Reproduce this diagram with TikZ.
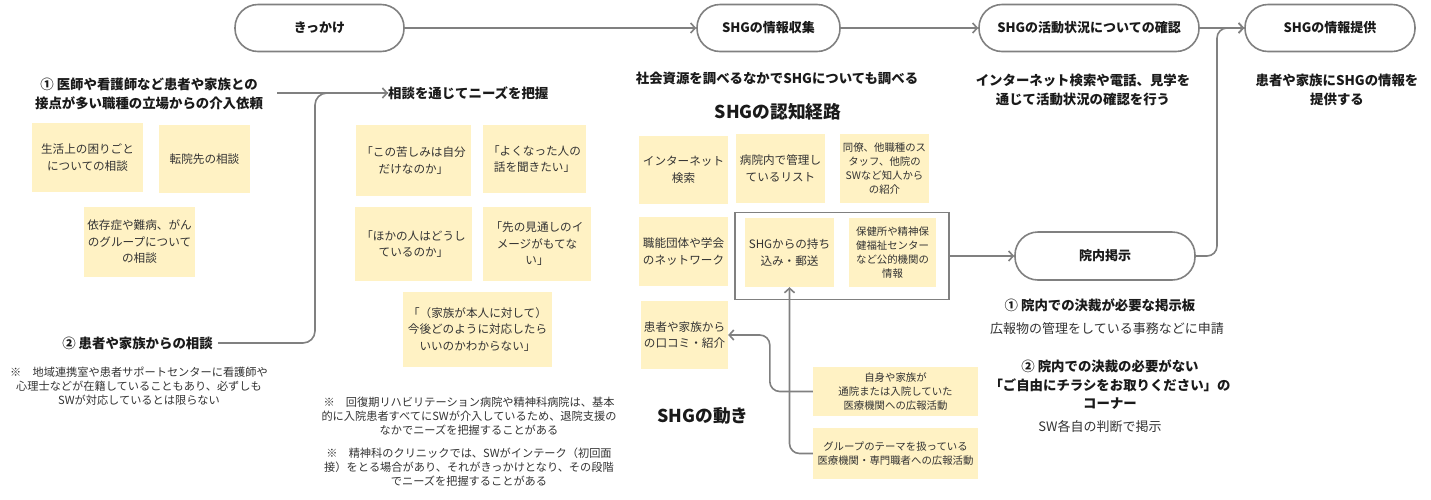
\documentclass[tikz,border=0pt]{standalone}
\usepackage{fontspec}
\setmainfont{Noto Sans CJK JP}
\usetikzlibrary{arrows.meta,calc}
\definecolor{lg}{HTML}{808080}
\definecolor{ylw}{HTML}{FFF2C4}
\definecolor{txt}{HTML}{1A1A1A}
\definecolor{btxt}{HTML}{333333}
\tikzset{
  pill/.style={draw=lg,line width=1.6pt,rounded corners=23pt,minimum height=47pt,
    font=\bfseries\fontsize{13}{15}\selectfont,text=txt,align=center},
  arr/.style={draw=lg,line width=1.6pt,-{Straight Barb[length=4.5pt,width=10pt]}},
  conn/.style={draw=lg,line width=1.6pt},
  ybox/.style={fill=ylw,inner sep=0pt,align=center,text=btxt,
    font=\fontsize{11.6}{16.5}\selectfont},
  ysmall/.style={fill=ylw,inner sep=0pt,align=center,text=btxt,
    font=\fontsize{10.4}{14}\selectfont},
  lbl/.style={align=center,text=txt,inner sep=0pt,font=\bfseries\fontsize{13.4}{18.5}\selectfont},
  plain/.style={align=center,text=btxt,inner sep=0pt,font=\fontsize{13}{18}\selectfont},
  note/.style={align=center,text=btxt,inner sep=0pt,font=\fontsize{11.2}{14.2}\selectfont},
  head/.style={align=center,text=txt,inner sep=0pt,font=\bfseries\fontsize{17.7}{20}\selectfont},
}
\begin{document}
\begin{tikzpicture}[x=1pt,y=-1pt]
\useasboundingbox[fill=white] (0,0) rectangle (1431,499);
% top pills
\node[pill,minimum width=169pt] (p1) at (319.5,28) {きっかけ};
\node[pill,minimum width=143pt] (p2) at (768.5,28) {SHGの情報収集};
\node[pill,minimum width=220pt] (p3) at (1089,28) {SHGの活動状況についての確認};
\node[pill,minimum width=170pt] (p4) at (1330,28) {SHGの情報提供};
\node[pill,minimum width=180pt,minimum height=48pt] (p5) at (1105,256) {院内掲示};
\draw[arr] (p1.east) -- (p2.west);
\draw[arr] (p2.east) -- (p3.west);
\draw[arr] (p3.east) -- (p4.west);
\draw[arr,rounded corners=10pt] (p5.east) -| (1217,28) -- (p4.west);
% left
\node[lbl] (t1) at (149,94) {① 医師や看護師など患者や家族との\\接点が多い職種の立場からの介入依頼};
\node[lbl,anchor=west] (n1) at (388,93) {相談を通じてニーズを把握};
\coordinate (j1) at (277,93);
\draw[arr] (j1) -- (n1.west);
\node[lbl] (t2) at (137.5,343) {② 患者や家族からの相談};
\coordinate (j2) at (218,343);
\draw[conn,rounded corners=12pt] (j2) -| (315,93) -- (n1.west);
\node[ybox,minimum width=111pt,minimum height=69pt] (b1) at (87.5,157.5) {生活上の困りごと\\についての相談};
\node[ybox,minimum width=91pt,minimum height=68pt] (b2) at (204.5,159) {転院先の相談};
\node[ybox,minimum width=111pt,minimum height=70pt] (b3) at (139.5,242) {依存症や難病、がん\\のグループについて\\の相談};
\node[note] (nt1) at (139,386) {※　地域連携室や患者サポートセンターに看護師や\\心理士などが在籍していることもあり、必ずしも\\SWが対応しているとは限らない};
% middle
\node[ybox,minimum width=115pt,minimum height=71pt] (m1) at (413.5,160.5) {「この苦しみは自分\\だけなのか」};
\node[ybox,minimum width=103pt,minimum height=68pt] (m2) at (534.5,159) {「よくなった人の\\話を聞きたい」};
\node[ybox,minimum width=117pt,minimum height=74pt] (m3) at (413.5,244) {「ほかの人はどうし\\ているのか」};
\node[ybox,minimum width=108pt,minimum height=74pt] (m4) at (537,244) {「先の見通しのイ\\メージがもてな\\い」};
\node[ybox,minimum width=149pt,minimum height=75pt] (m5) at (477.5,329.5) {「（家族が本人に対して）\\今後どのように対応したら\\いいのかわからない」};
\node[note] (nt2) at (469,416) {※　回復期リハビリテーション病院や精神科病院は、基本\\的に入院患者すべてにSWが介入しているため、退院支援の\\なかでニーズを把握することがある};
\node[note] (nt3) at (469,467) {※　精神科のクリニックでは、SWがインテーク（初回面\\接）をとる場合があり、それがきっかけとなり、その段階\\でニーズを把握することがある};
% right-middle
\node[lbl] (h1) at (777,78) {社会資源を調べるなかでSHGについても調べる};
\node[head] (h2) at (778,112) {SHGの認知経路};
\node[draw=lg,line width=1.6pt,minimum width=214pt,minimum height=87pt] (shg) at (842,256) {};
\node[ybox,minimum width=89pt,minimum height=68pt] (r1) at (683.5,170) {インターネット\\検索};
\node[ybox,minimum width=89pt,minimum height=69pt] (r2) at (780.5,168.5) {病院内で管理し\\ているリスト};
\node[ysmall,minimum width=89pt,minimum height=69pt] (r3) at (884.5,168.5) {同僚、他職種のス\\タッフ、他院の\\SWなど知人から\\の紹介};
\node[ybox,minimum width=89pt,minimum height=69pt] (r4) at (683.5,251.5) {職能団体や学会\\のネットワーク};
\node[ybox,minimum width=89pt,minimum height=69pt] (r5) at (789.5,252.5) {SHGからの持ち\\込み・郵送};
\node[ysmall,minimum width=87pt,minimum height=69pt] (r6) at (892.5,252.5) {保健所や精神保\\健福祉センター\\など公的機関の\\情報};
\node[ybox,minimum width=87pt,minimum height=68pt] (r7) at (684.5,335) {患者や家族から\\の口コミ・紹介};
\node[ysmall,minimum width=165pt,minimum height=49pt] (r8) at (895.5,391.5) {自身や家族が\\通院または入院していた\\医療機関への広報活動};
\node[ysmall,minimum width=165pt,minimum height=51pt] (r9) at (895.5,453.5) {グループのテーマを扱っている\\医療機関・専門職者への広報活動};
\node[head] (h3) at (703,416) {SHGの動き};
\draw[arr] (shg.east) -- (p5.west);
\draw[arr,rounded corners=10pt] (r9.west) -| (r5.south);
\draw[arr,rounded corners=10pt] (r8.west) -- ++(-43,0) |- (r7.east);
% right
\node[lbl] (h4) at (1083,90) {インターネット検索や電話、見学を\\通じて活動状況の確認を行う};
\node[lbl] (h5) at (1337,90) {患者や家族にSHGの情報を\\提供する};
\node[lbl] (t5) at (1100,305) {① 院内での決裁が必要な掲示板};
\node[plain] (t6) at (1107,329) {広報物の管理をしている事務などに申請};
\node[lbl] (t7) at (1110,385) {② 院内での決裁の必要がない\\「ご自由にチラシをお取りください」の\\コーナー};
\node[plain] (t8) at (1100,427) {SW各自の判断で掲示};
\end{tikzpicture}
\end{document}
